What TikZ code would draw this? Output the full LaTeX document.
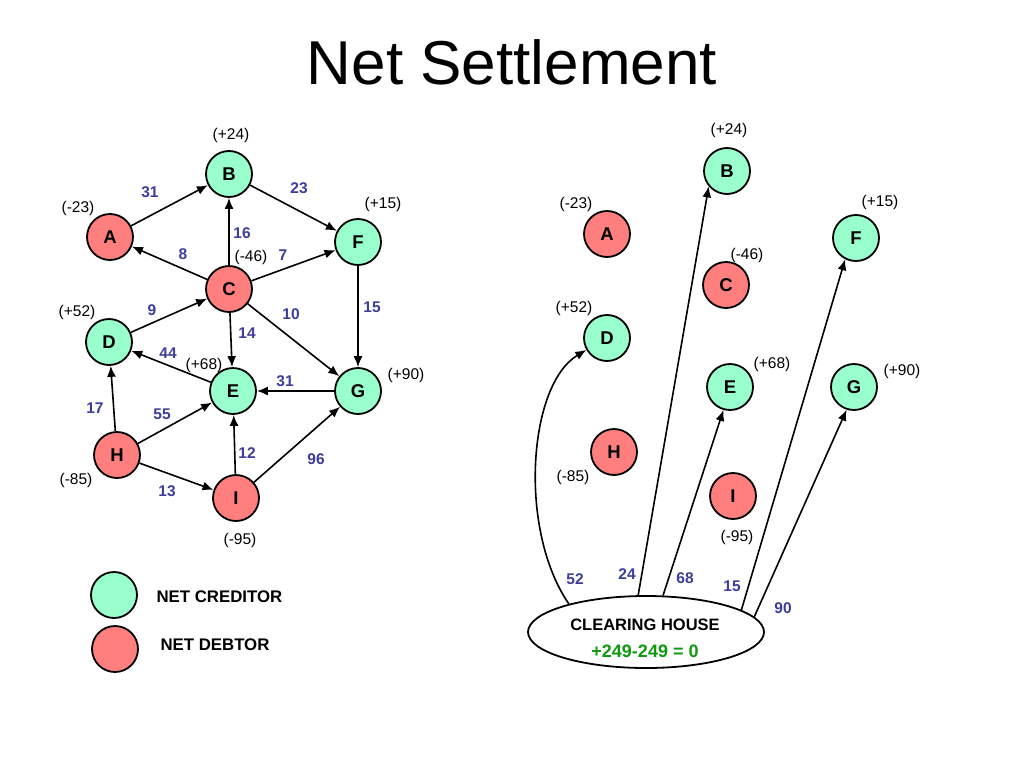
\documentclass[tikz,border=0pt]{standalone}
\usepackage{fontspec}
\setmainfont{Liberation Sans}
\usetikzlibrary{arrows.meta,shapes.geometric}
\definecolor{cred}{HTML}{99FFCC}
\definecolor{deb}{HTML}{FF7F7F}
\definecolor{numblue}{HTML}{3D3D9E}
\definecolor{hgreen}{HTML}{0E990E}
\begin{document}
\begin{tikzpicture}[x=1pt,y=-1pt,
  cnode/.style={circle,draw=black,line width=1.8pt,minimum size=46pt,inner sep=0pt,font=\fontsize{18.5}{20}\selectfont\bfseries},
  crd/.style={cnode,fill=cred},
  dbt/.style={cnode,fill=deb},
  bal/.style={font=\fontsize{15.5}{17}\selectfont},
  amt/.style={font=\fontsize{15.5}{17}\selectfont\bfseries,text=numblue},
  flow/.style={line width=1.6pt,-{Latex[length=11pt,width=9pt]}}]
\fill[white] (0,0) rectangle (1024,768);
\useasboundingbox (0,0) rectangle (1024,768);

% title
\node[font=\fontsize{62}{70}\selectfont] (title) at (512,62) {Net Settlement};

% ---------------- left graph ----------------
\node[crd] (B) at (229,174) {B};
\node[dbt] (A) at (110,237) {A};
\node[crd] (F) at (358,242) {F};
\node[dbt] (C) at (229,289) {C};
\node[crd] (D) at (109,342) {D};
\node[crd] (E) at (233,391) {E};
\node[crd] (G) at (358,391) {G};
\node[dbt] (H) at (117,455) {H};
\node[dbt] (I) at (236,498) {I};

\node[bal] (bB) at (231,135) {(+24)};
\node[bal] (bA) at (78,208) {(-23)};
\node[bal] (bF) at (383,204) {(+15)};
\node[bal] (bC) at (251,257) {(-46)};
\node[bal] (bD) at (77,312) {(+52)};
\node[bal] (bE) at (204,365) {(+68)};
\node[bal] (bG) at (406,375) {(+90)};
\node[bal] (bH) at (76,480) {(-85)};
\node[bal] (bI) at (240,540) {(-95)};

\draw[flow] (A) -- (B);
\draw[flow] (B) -- (F);
\draw[flow] (C) -- (B);
\draw[flow] (C) -- (A);
\draw[flow] (C) -- (F);
\draw[flow] (D) -- (C);
\draw[flow] (C) -- (E);
\draw[flow] (C) -- (G);
\draw[flow] (F) -- (G);
\draw[flow] (E) -- (D);
\draw[flow] (G) -- (E);
\draw[flow] (H) -- (D);
\draw[flow] (H) -- (E);
\draw[flow] (I) -- (E);
\draw[flow] (H) -- (I);
\draw[flow] (I) -- (G);

\node[amt] (lAB) at (150,192) {31};
\node[amt] (lBF) at (299,188) {23};
\node[amt] (lCB) at (242,233) {16};
\node[amt] (lCA) at (183,254) {8};
\node[amt] (lCF) at (283,255) {7};
\node[amt] (lDC) at (152,310) {9};
\node[amt] (lFG) at (372,307) {15};
\node[amt] (lCG) at (291,314) {10};
\node[amt] (lCE) at (247,333) {14};
\node[amt] (lED) at (168,353) {44};
\node[amt] (lGE) at (285,381) {31};
\node[amt] (lHD) at (95,408) {17};
\node[amt] (lHE) at (162,414) {55};
\node[amt] (lIE) at (247,453) {12};
\node[amt] (lIG) at (316,459) {96};
\node[amt] (lHI) at (167,491) {13};

% legend
\node[crd] (lg1) at (114,595) {};
\node[dbt] (lg2) at (115,649) {};
\node[anchor=west,font=\fontsize{16.8}{18}\selectfont\bfseries] (tg1) at (153,597) {NET CREDITOR};
\node[anchor=west,font=\fontsize{16.8}{18}\selectfont\bfseries] (tg2) at (157,645) {NET DEBTOR};

% ---------------- right graph ----------------
\node[crd] (rB) at (727,171) {B};
\node[dbt] (rA) at (607,234) {A};
\node[crd] (rF) at (856,238) {F};
\node[dbt] (rC) at (726,285) {C};
\node[crd] (rD) at (607,338) {D};
\node[crd] (rE) at (730,387) {E};
\node[crd] (rG) at (854,387) {G};
\node[dbt] (rH) at (614,452) {H};
\node[dbt] (rI) at (733,496) {I};

\node[bal] (rbB) at (729,130) {(+24)};
\node[bal] (rbA) at (576,204) {(-23)};
\node[bal] (rbF) at (880,202) {(+15)};
\node[bal] (rbC) at (747,255) {(-46)};
\node[bal] (rbD) at (574,308) {(+52)};
\node[bal] (rbE) at (772,364) {(+68)};
\node[bal] (rbG) at (902,371) {(+90)};
\node[bal] (rbH) at (573,477) {(-85)};
\node[bal] (rbI) at (737,537) {(-95)};

\node[ellipse,draw=black,fill=white,line width=1.8pt,minimum width=236pt,minimum height=72pt,inner sep=0pt] (ch) at (646,632) {};
\node[font=\fontsize{16.5}{18}\selectfont\bfseries] (cht) at (645,625) {CLEARING HOUSE};
\node[font=\fontsize{18}{20}\selectfont\bfseries,text=hgreen] (chs) at (645,651) {+249-249 = 0};

\draw[flow] (ch.160) .. controls (518,530) and (528,385) .. (rD.210);
\draw[flow] (ch.102) -- (rB.220);
\draw[flow] (ch.65) -- (rE.254);
\draw[flow] (ch.13) -- (rF.243);
\draw[flow] (ch.8) -- (rG.252);

\node[amt] (r52) at (575,579) {52};
\node[amt] (r24) at (627,574) {24};
\node[amt] (r68) at (685,578) {68};
\node[amt] (r15) at (732,586) {15};
\node[amt] (r90) at (783,608) {90};
\end{tikzpicture}
\end{document}
